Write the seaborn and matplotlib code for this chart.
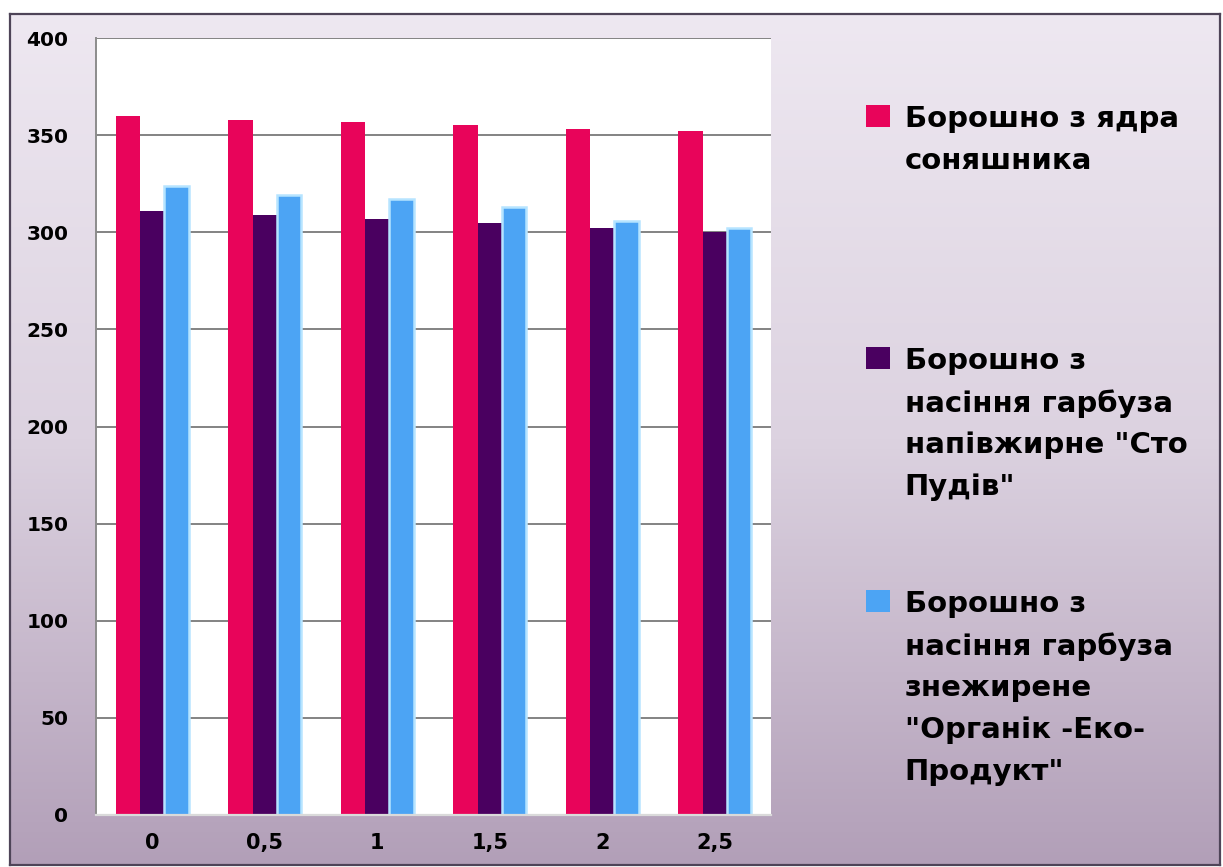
import numpy as np
import pandas as pd
import matplotlib
matplotlib.use("Agg")
import matplotlib.pyplot as plt
from matplotlib.colors import LinearSegmentedColormap
import seaborn as sns

# Concentrations on the x axis and the three flour series
concentrations = ["0", "0,5", "1", "1,5", "2", "2,5"]
sunflower = [360, 358, 357, 355, 353, 352]
pumpkin_semi = [311, 309, 307, 305, 302, 300]
pumpkin_defat = [324, 319, 317, 313, 306, 302]

series_names = [
    "Борошно з ядра\nсоняшника",
    "Борошно з\nнасіння гарбуза\nнапівжирне \"Сто\nПудів\"",
    "Борошно з\nнасіння гарбуза\nзнежирене\n\"Органік -Еко-\nПродукт\"",
]
colors = ["#E8045A", "#4A0060", "#4CA4F4"]

df = pd.DataFrame({
    "conc": concentrations * 3,
    "value": sunflower + pumpkin_semi + pumpkin_defat,
    "series": [series_names[0]] * 6 + [series_names[1]] * 6 + [series_names[2]] * 6,
})

sns.set_style("white")
plt.rcParams["font.family"] = ["DejaVu Sans"]
plt.rcParams["text.color"] = "black"
plt.rcParams["xtick.color"] = "black"
plt.rcParams["ytick.color"] = "black"

W, H = 1223, 867
fig = plt.figure(figsize=(W / 100, H / 100), dpi=100)
fig.patch.set_facecolor("white")

# Lavender gradient panel with a dark frame
bg = fig.add_axes([10 / W, 2 / H, 1210 / W, 851 / H], zorder=-10)
grad = np.linspace(0, 1, 256).reshape(-1, 1)
cmap = LinearSegmentedColormap.from_list("bg", ["#EEE8F1", "#DCD2E0", "#B29FB8"])
bg.imshow(grad, aspect="auto", cmap=cmap, extent=[0, 1, 0, 1], origin="upper")
bg.set_xticks([])
bg.set_yticks([])
for s in bg.spines.values():
    s.set_color("#4E4458")
    s.set_linewidth(1.6)

ax = fig.add_axes([96 / W, (H - 815) / H, (771 - 96) / W, (815 - 38) / H])
ax.set_facecolor("white")

sns.barplot(data=df, x="conc", y="value", hue="series", order=concentrations,
            hue_order=series_names, palette=colors, width=0.65, ax=ax,
            saturation=1, errorbar=None, linewidth=0)

# Soft light rim on the blue bars
for bar in ax.containers[2]:
    bar.set_edgecolor("#B6E4FF")
    bar.set_linewidth(1.8)

handles, labels = ax.get_legend_handles_labels()
ax.get_legend().remove()

ax.set_ylim(0, 400)
ax.set_yticks(np.arange(0, 401, 50))
ax.set_xlim(-0.5, 5.5)
ax.set_xlabel("")
ax.set_ylabel("")
ax.set_axisbelow(True)
ax.yaxis.grid(True, color="#7A7A7A", linewidth=1.3)
ax.xaxis.grid(False)

ax.set_xticks(np.arange(-0.5, 6, 1), minor=True)
ax.tick_params(axis="x", which="major", length=0, pad=13, labelsize=15)
ax.tick_params(axis="x", which="minor", length=5, width=1, color="#C8C8C8", direction="out")
ax.tick_params(axis="y", which="major", length=10, width=1.2, color="#707070",
               direction="out", pad=10, labelsize=14.5)
for lab in ax.get_xticklabels() + ax.get_yticklabels():
    lab.set_fontweight("bold")
    lab.set_color("black")

for side in ["top", "right"]:
    ax.spines[side].set_visible(False)
ax.spines["left"].set_color("#8C8C8C")
ax.spines["left"].set_linewidth(1.4)
ax.spines["bottom"].set_color("#DADADA")
ax.spines["bottom"].set_linewidth(1.6)

# One legend entry per series, each marker beside the first text line
tops = [105, 347, 590]
for h, lab, top in zip(handles, labels, tops):
    leg = fig.legend([h], [lab], loc="upper left",
                     bbox_to_anchor=(866 / W, 1 - top / H),
                     frameon=False, borderpad=0, borderaxespad=0,
                     handlelength=0.83, handleheight=0.8, handletextpad=0.5,
                     prop={"size": 21, "weight": "bold"})
    for t in leg.get_texts():
        t.set_linespacing(1.62)
        t.set_color("black")
    for col in leg._legend_handle_box.get_children():
        for item in col.get_children():
            item.align = "top"

fig.savefig("out.png", dpi=100)
